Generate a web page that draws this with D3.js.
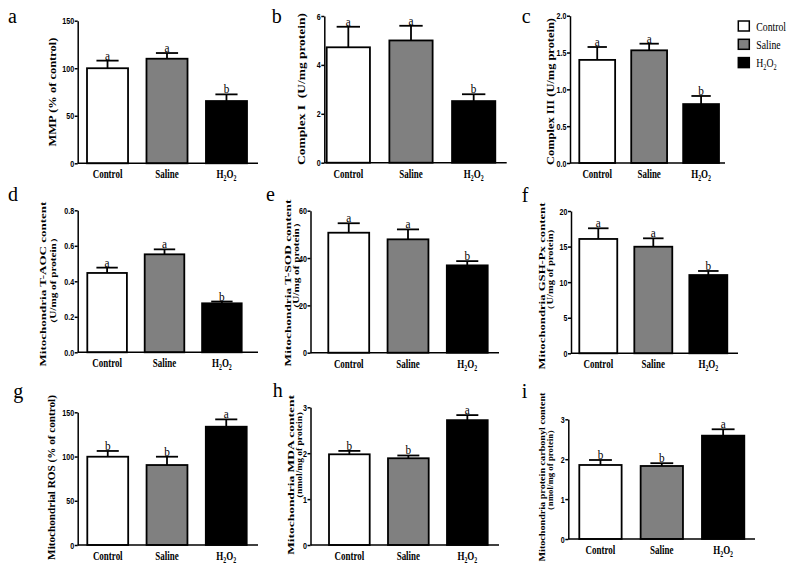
<!DOCTYPE html>
<html>
<head>
<meta charset="utf-8">
<script src="https://d3js.org/d3.v7.min.js"></script>
<style>
    body { margin: 0; background: #fff; }
    svg { display: block; }
    .axis .domain { stroke: #000; stroke-width: 1.5px; }
    .axis .tick line { stroke: #000; stroke-width: 1.5px; }
    .axis .tick text {
        font-family: "Liberation Sans", Arial, sans-serif;
        font-weight: bold;
        font-size: 9.5px;
        fill: #000;
    }
    .serif { font-family: "Liberation Serif", "Times New Roman", serif; fill: #000; }
</style>
</head>
<body>
<svg id="chart" width="790" height="573"></svg>
<script>
(function () {
    'use strict';

    var groups = ['Control', 'Saline', 'H2O2'];
    var fills = ['#ffffff', '#808080', '#000000'];

    var mmpMean = [100, 110, 65.5];
    var mmpErr = [8, 6, 7];
    var complexIMean = [4.72, 5.0, 2.52];
    var complexIErr = [0.84, 0.6, 0.28];
    var complexIIIMean = [1.40, 1.53, 0.80];
    var complexIIIErr = [0.175, 0.09, 0.11];
    var taocMean = [0.447, 0.552, 0.276];
    var taocErr = [0.03, 0.028, 0.01];
    var tsodMean = [50.7, 47.9, 36.9];
    var tsodErr = [4.0, 4.2, 1.8];
    var gshMean = [16.07, 14.98, 11.0];
    var gshErr = [1.5, 1.18, 0.57];
    var rosMean = [99.8, 90.4, 133.7];
    var rosErr = [6.5, 9.4, 8.3];
    var mdaMean = [1.976, 1.89, 2.72];
    var mdaErr = [0.074, 0.06, 0.11];
    var carbonylMean = [1.855, 1.83, 2.59];
    var carbonylErr = [0.125, 0.07, 0.16];

    var lettersDrop = ['a', 'a', 'b'];
    var lettersRise = ['b', 'b', 'a'];

    var panelTags = ['a', 'b', 'c', 'd', 'e', 'f', 'g', 'h', 'i'];
    var yMax = [150, 6, 2, 0.8, 60, 20, 150, 3, 3];
    var yStep = [50, 2, 0.5, 0.2, 20, 5, 50, 1, 1];
    var yFormat = ['d', 'd', '.1f', '.1f', 'd', 'd', 'd', 'd', 'd'];
    var yTitles = [
        ['MMP (% of control)'],
        ['Complex I\u00a0\u00a0(U/mg protein)'],
        ['Complex III (U/mg protein)'],
        ['Mitochondria T-AOC content', '\uff08U/mg of protein\uff09'],
        ['Mitochondria T-SOD content', '\uff08U/mg of protein\uff09'],
        ['Mitochondria GSH-Px content', '\uff08U/mg of protein\uff09'],
        ['Mitochondrial ROS (% of control)'],
        ['Mitochondria MDA content', '\uff08nmol/mg of protein\uff09'],
        ['Mitochondria protein carbonyl content', '\uff08nmol/mg of protein\uff09']
    ];

    var meanSets = [mmpMean, complexIMean, complexIIIMean, taocMean, tsodMean, gshMean, rosMean, mdaMean, carbonylMean];
    var errSets = [mmpErr, complexIErr, complexIIIErr, taocErr, tsodErr, gshErr, rosErr, mdaErr, carbonylErr];
    var letterSets = [lettersDrop, lettersDrop, lettersDrop, lettersDrop, lettersDrop, lettersDrop, lettersRise, lettersRise, lettersRise];

    var layout = [
        {ax: 77.7, axEnd: 258, b0: 87, b1: 247, top: 20.7, bot: 163.3, tx: [52], tc: [92], tl: [109], lx: 8, ly: 22.7},
        {ax: 324.3, axEnd: 506.7, b0: 326.7, b1: 495.3, top: 16, bot: 162.7, tx: [301.7], tc: [89], tl: [152], lx: 271.7, ly: 23},
        {ax: 570, axEnd: 725, b0: 579.3, b1: 719, top: 15.7, bot: 163, tx: [550], tc: [91.5], tl: [147], lx: 521.7, ly: 22.7},
        {ax: 77.7, axEnd: 258, b0: 87.3, b1: 241.7, top: 210.3, bot: 352.3, tx: [43, 53], tc: [284, 281], tl: [165, 98], lx: 8, ly: 201},
        {ax: 310.5, axEnd: 499, b0: 328.3, b1: 487.7, top: 210.7, bot: 352.7, tx: [288.5, 296], tc: [283, 266], tl: [167, 98], lx: 266, ly: 201},
        {ax: 571, axEnd: 738, b0: 579.3, b1: 727.3, top: 211, bot: 353.3, tx: [541.7, 550.7], tc: [286, 269], tl: [167, 92], lx: 521.7, ly: 201.7},
        {ax: 77.7, axEnd: 258, b0: 87.3, b1: 246.7, top: 412.3, bot: 545, tx: [51.7], tc: [477.5], tl: [165], lx: 13.3, ly: 397.7},
        {ax: 310.5, axEnd: 499, b0: 329, b1: 487.7, top: 407.3, bot: 545, tx: [291, 299], tc: [475, 455], tl: [160, 97], lx: 272.7, ly: 396.7},
        {ax: 568.3, axEnd: 755, b0: 579.3, b1: 744.3, top: 419.3, bot: 539, tx: [541.7, 550.7], tc: [477, 470], tl: [169, 90], lx: 521.7, ly: 398.3}
    ];

    var svg = d3.select('#chart');

    panelTags.forEach(drawPanel);
    drawLegend();

    function drawPanel(tag, i) {
        var L = layout[i];
        var means = meanSets[i];
        var errs = errSets[i];
        var letters = letterSets[i];
        var rows = groups.map(function (g, k) {
            return {group: g, mean: means[k], err: errs[k], letter: letters[k], fill: fills[k]};
        });

        var x = d3.scaleBand()
            .domain(groups)
            .range([L.b0, L.b1])
            .paddingInner(0.31)
            .paddingOuter(0);

        var y = d3.scaleLinear()
            .domain([0, yMax[i]])
            .range([L.bot, L.top]);

        var g = svg.append('g').attr('class', 'panel panel-' + tag);

        // bars
        g.selectAll('.bar')
            .data(rows)
            .enter().append('rect')
            .attr('class', 'bar')
            .attr('x', function (d) { return x(d.group); })
            .attr('y', function (d) { return y(d.mean); })
            .attr('width', x.bandwidth())
            .attr('height', function (d) { return y(0) - y(d.mean); })
            .attr('fill', function (d) { return d.fill; })
            .attr('stroke', '#000')
            .attr('stroke-width', 1.8);

        // upper error bars
        var capHalf = x.bandwidth() * 0.27;
        var err = g.selectAll('.err')
            .data(rows)
            .enter().append('g')
            .attr('class', 'err')
            .attr('stroke', '#000')
            .attr('stroke-width', 1.8);

        err.append('line')
            .attr('x1', function (d) { return x(d.group) + x.bandwidth() / 2; })
            .attr('x2', function (d) { return x(d.group) + x.bandwidth() / 2; })
            .attr('y1', function (d) { return y(d.mean); })
            .attr('y2', function (d) { return y(d.mean + d.err); });

        err.append('line')
            .attr('x1', function (d) { return x(d.group) + x.bandwidth() / 2 - capHalf; })
            .attr('x2', function (d) { return x(d.group) + x.bandwidth() / 2 + capHalf; })
            .attr('y1', function (d) { return y(d.mean + d.err); })
            .attr('y2', function (d) { return y(d.mean + d.err); });

        // significance letters
        g.selectAll('.sig')
            .data(rows)
            .enter().append('g')
            .attr('class', 'sig')
            .attr('transform', function (d) {
                return 'translate(' + (x(d.group) + x.bandwidth() / 2) + ',' + (y(d.mean + d.err) - 1) + ') scale(0.9,1)';
            })
            .append('text')
            .attr('class', 'serif')
            .attr('text-anchor', 'middle')
            .attr('font-size', '12.5px')
            .text(function (d) { return d.letter; });

        // y axis
        var yAxis = d3.axisLeft(y)
            .tickValues(d3.range(0, yMax[i] + yStep[i] / 2, yStep[i]))
            .tickFormat(d3.format(yFormat[i]))
            .tickSize(3)
            .tickSizeOuter(0)
            .tickPadding(0.5);

        var ya = g.append('g')
            .attr('class', 'axis y-axis')
            .attr('transform', 'translate(' + L.ax + ',0)')
            .call(yAxis);

        // narrow the tick digits like the original
        ya.selectAll('.tick text')
            .attr('x', -3.5 / 0.75)
            .attr('transform', 'scale(0.75,1)');

        // x axis: baseline only, no ticks
        g.append('line')
            .attr('x1', L.ax)
            .attr('x2', L.axEnd)
            .attr('y1', y(0))
            .attr('y2', y(0))
            .attr('stroke', '#000')
            .attr('stroke-width', 1.5);

        var xl = g.selectAll('.xlab')
            .data(groups)
            .enter().append('g')
            .attr('class', 'xlab')
            .attr('transform', function (d) {
                return 'translate(' + (x(d) + x.bandwidth() / 2) + ',' + (y(0) + 15) + ') scale(0.78,1)';
            })
            .append('text')
            .attr('class', 'serif')
            .attr('text-anchor', 'middle')
            .attr('font-size', '11.5px')
            .attr('font-weight', 'bold');
        xl.each(function (d) { groupLabel(d3.select(this), d, 7.5); });

        // y title, rotated; thinned across and stretched along to the measured length
        var twoLines = yTitles[i].length > 1;
        yTitles[i].forEach(function (line, k) {
            var t = g.append('g')
                .attr('transform', 'translate(' + L.tx[k] + ',' + L.tc[k] + ') rotate(-90)')
                .append('text')
                .attr('class', 'serif')
                .attr('text-anchor', 'middle')
                .attr('dy', '0.35em')
                .attr('font-size', twoLines ? (k === 0 ? '11.5px' : '10px') : '13px')
                .attr('font-weight', 'bold')
                .text(line);
            squeeze(t, L.tl[k], twoLines ? 0.72 : 0.78);
        });

        // panel letter
        g.append('text')
            .attr('class', 'serif')
            .attr('x', L.lx)
            .attr('y', L.ly)
            .attr('font-size', '20px')
            .text(tag);
    }

    function groupLabel(text, name, subSize) {
        if (name !== 'H2O2') {
            text.text(name);
            return;
        }
        text.append('tspan').text('H');
        text.append('tspan').attr('dy', 3).attr('font-size', subSize + 'px').text('2');
        text.append('tspan').attr('dy', -3).text('O');
        text.append('tspan').attr('dy', 3).attr('font-size', subSize + 'px').text('2');
    }

    function squeeze(text, width, thin) {
        var w = text.node().getComputedTextLength();
        if (w > 0) {
            text.attr('transform', 'scale(' + (width / w) + ',' + thin + ')');
        }
    }

    function drawLegend() {
        var legend = svg.append('g').attr('class', 'legend');
        var item = legend.selectAll('.item')
            .data(groups)
            .enter().append('g')
            .attr('class', 'item')
            .attr('transform', function (d, k) { return 'translate(738.3,' + (21 + k * 18.3) + ')'; });

        item.append('rect')
            .attr('width', 11)
            .attr('height', 10)
            .attr('fill', function (d, k) { return fills[k]; })
            .attr('stroke', '#000')
            .attr('stroke-width', 1.5);

        item.append('g')
            .attr('transform', 'translate(18,9.5) scale(0.78,1)')
            .append('text')
            .attr('class', 'serif')
            .attr('font-size', '12.5px')
            .each(function (d) { groupLabel(d3.select(this), d, 8); });
    }

})();
</script>
</body>
</html>
